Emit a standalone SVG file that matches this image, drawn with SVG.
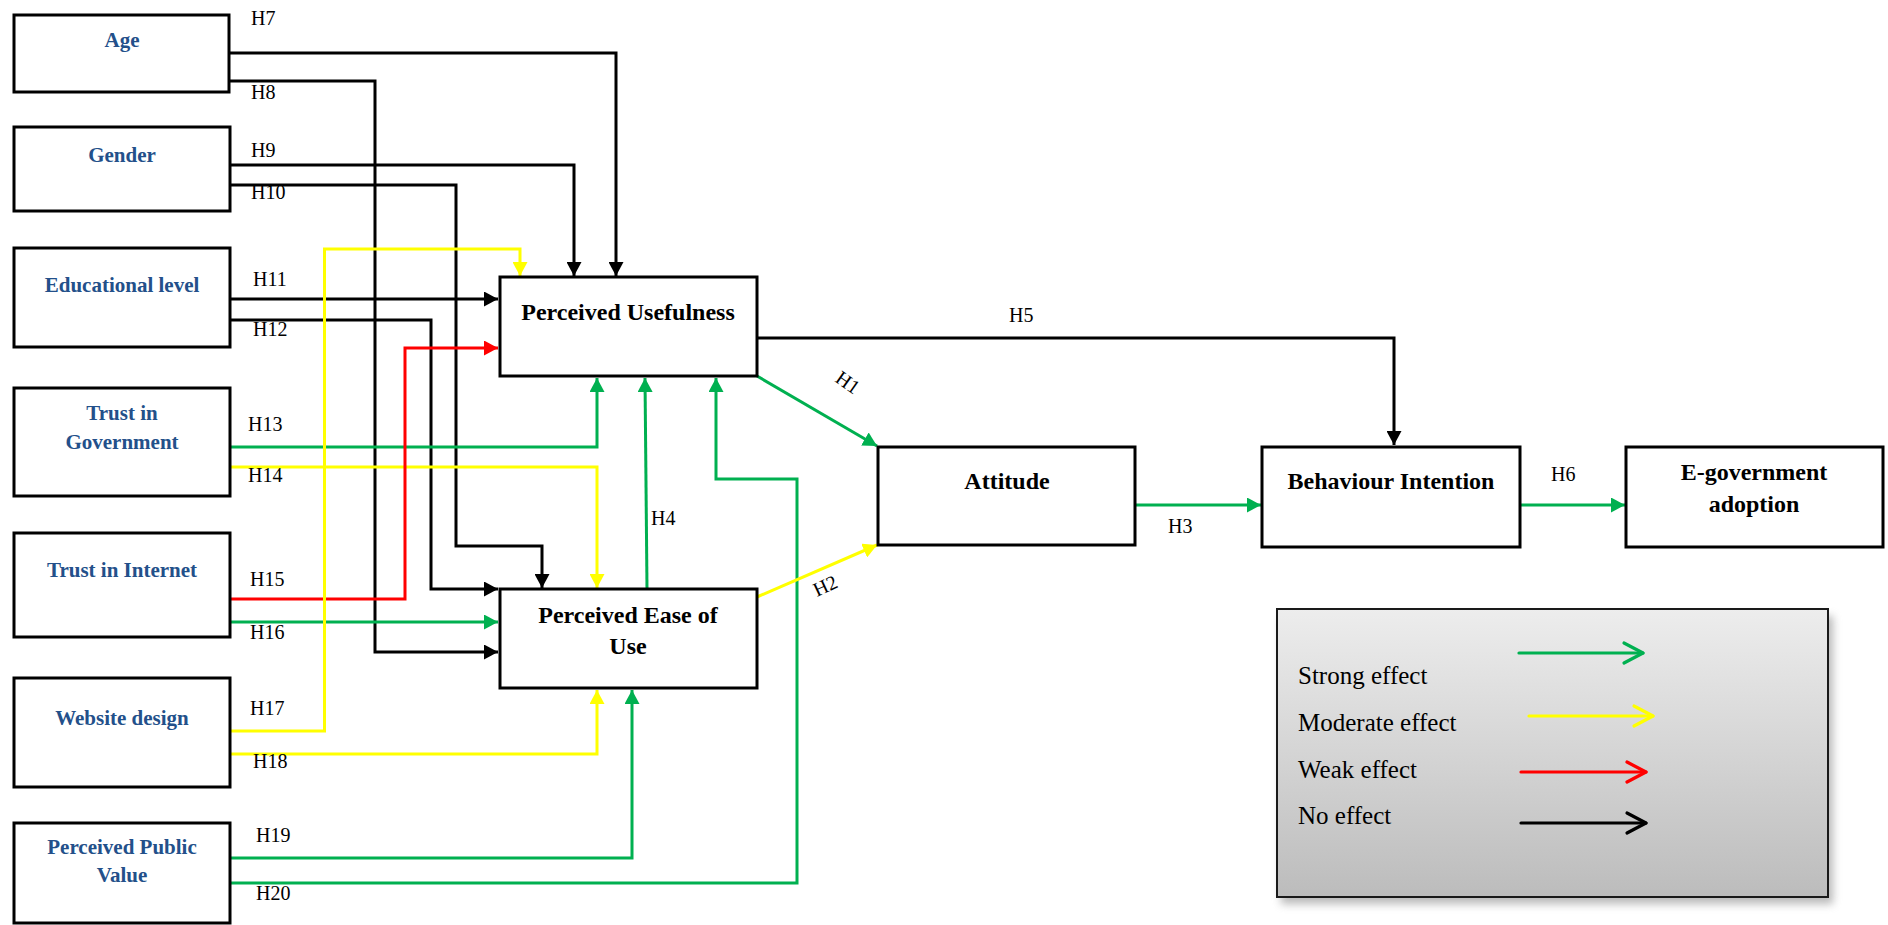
<svg xmlns="http://www.w3.org/2000/svg" width="1888" height="925" viewBox="0 0 1888 925">
  <defs>
    <style>
      .box { fill: #ffffff; stroke: #000000; stroke-width: 3; }
      .src { font-family: "Liberation Serif", "Times New Roman", serif; font-weight: bold; font-size: 21px; fill: #23508a; text-anchor: middle; }
      .main { font-family: "Liberation Serif", "Times New Roman", serif; font-weight: bold; font-size: 24px; fill: #000000; text-anchor: middle; }
      .hyp { font-family: "Liberation Serif", "Times New Roman", serif; font-size: 20px; fill: #000000; }
      .leg { font-family: "Liberation Serif", "Times New Roman", serif; font-size: 25px; fill: #000000; }
      .c { fill: none; stroke-width: 3; stroke-linejoin: miter; }
      .k { stroke: #000000; }
      .g { stroke: #00b050; }
      .y { stroke: #ffff00; }
      .r { stroke: #ff0000; }
      .legarrow { fill: none; stroke-width: 3.2; stroke-linecap: round; stroke-linejoin: round; }
    </style>
    <marker id="ahK" viewBox="0 0 14 15" refX="14" refY="7.5" markerWidth="14" markerHeight="15" markerUnits="userSpaceOnUse" orient="auto">
      <path d="M0,0 L14,7.5 L0,15 z" fill="#000000"/>
    </marker>
    <marker id="ahG" viewBox="0 0 14 15" refX="14" refY="7.5" markerWidth="14" markerHeight="15" markerUnits="userSpaceOnUse" orient="auto">
      <path d="M0,0 L14,7.5 L0,15 z" fill="#00b050"/>
    </marker>
    <marker id="ahY" viewBox="0 0 14 15" refX="14" refY="7.5" markerWidth="14" markerHeight="15" markerUnits="userSpaceOnUse" orient="auto">
      <path d="M0,0 L14,7.5 L0,15 z" fill="#ffff00"/>
    </marker>
    <marker id="ahR" viewBox="0 0 14 15" refX="14" refY="7.5" markerWidth="14" markerHeight="15" markerUnits="userSpaceOnUse" orient="auto">
      <path d="M0,0 L14,7.5 L0,15 z" fill="#ff0000"/>
    </marker>
    <linearGradient id="legFill" x1="0" y1="0" x2="0" y2="1">
      <stop offset="0" stop-color="#ededed"/>
      <stop offset="1" stop-color="#bcbcbc"/>
    </linearGradient>
    <filter id="soft" x="-10%" y="-10%" width="120%" height="130%">
      <feGaussianBlur stdDeviation="4"/>
    </filter>
  </defs>

  <rect width="1888" height="925" fill="#ffffff"/>

  <!-- connectors -->
  <g id="connectors">
    <path class="c k" d="M230,53 H616 V276" marker-end="url(#ahK)"/>
    <path class="c k" d="M230,81 H375 V652 H498" marker-end="url(#ahK)"/>
    <path class="c k" d="M230,165 H574 V276" marker-end="url(#ahK)"/>
    <path class="c k" d="M230,185 H456 V546 H542 V588" marker-end="url(#ahK)"/>
    <path class="c k" d="M230,299 H498" marker-end="url(#ahK)"/>
    <path class="c k" d="M230,320 H431 V589 H498" marker-end="url(#ahK)"/>
    <path class="c g" d="M230,447 H597 V378" marker-end="url(#ahG)"/>
    <path class="c y" d="M230,467 H597 V588" marker-end="url(#ahY)"/>
    <path class="c r" d="M230,599 H405 V348 H498" marker-end="url(#ahR)"/>
    <path class="c g" d="M230,622 H498" marker-end="url(#ahG)"/>
    <path class="c y" d="M230,731 H324.5 V249 H520 V276" marker-end="url(#ahY)"/>
    <path class="c y" d="M230,754 H597 V690" marker-end="url(#ahY)"/>
    <path class="c g" d="M230,858 H632 V690" marker-end="url(#ahG)"/>
    <path class="c g" d="M230,883 H797 V479 H716 V378" marker-end="url(#ahG)"/>
    <path class="c g" d="M647,589 L645,378" marker-end="url(#ahG)"/>
    <path class="c g" d="M757,376 L877,446" marker-end="url(#ahG)"/>
    <path class="c y" d="M757,597 L877,545" marker-end="url(#ahY)"/>
    <path class="c k" d="M757,338 H1394 V445" marker-end="url(#ahK)"/>
    <path class="c g" d="M1135,505 H1261" marker-end="url(#ahG)"/>
    <path class="c g" d="M1520,505 H1625" marker-end="url(#ahG)"/>

    <!-- hypothesis labels -->
    <text class="hyp" x="251" y="25">H7</text>
    <text class="hyp" x="251" y="99">H8</text>
    <text class="hyp" x="251" y="157">H9</text>
    <text class="hyp" x="251" y="199">H10</text>
    <text class="hyp" x="253" y="286">H11</text>
    <text class="hyp" x="253" y="336">H12</text>
    <text class="hyp" x="248" y="431">H13</text>
    <text class="hyp" x="248" y="482">H14</text>
    <text class="hyp" x="250" y="586">H15</text>
    <text class="hyp" x="250" y="639">H16</text>
    <text class="hyp" x="250" y="715">H17</text>
    <text class="hyp" x="253" y="768">H18</text>
    <text class="hyp" x="256" y="842">H19</text>
    <text class="hyp" x="256" y="900">H20</text>
    <text class="hyp" x="651" y="525">H4</text>
    <text class="hyp" x="1009" y="322">H5</text>
    <text class="hyp" x="1168" y="533">H3</text>
    <text class="hyp" x="1551" y="481">H6</text>
    <text class="hyp" transform="translate(834,381) rotate(35)">H1</text>
    <text class="hyp" transform="translate(817,597) rotate(-25)">H2</text>
  </g>

  <!-- source constructs -->
  <g id="age">
    <rect class="box" x="14" y="15" width="215" height="77"/>
    <text class="src" x="122" y="47">Age</text>
  </g>
  <g id="gender">
    <rect class="box" x="14" y="127" width="216" height="84"/>
    <text class="src" x="122" y="162">Gender</text>
  </g>
  <g id="education">
    <rect class="box" x="14" y="248" width="216" height="99"/>
    <text class="src" x="122" y="292">Educational level</text>
  </g>
  <g id="trust-government">
    <rect class="box" x="14" y="388" width="216" height="108"/>
    <text class="src" x="122" y="420">Trust in</text>
    <text class="src" x="122" y="449">Government</text>
  </g>
  <g id="trust-internet">
    <rect class="box" x="14" y="533" width="216" height="104"/>
    <text class="src" x="122" y="577">Trust in Internet</text>
  </g>
  <g id="website-design">
    <rect class="box" x="14" y="678" width="216" height="109"/>
    <text class="src" x="122" y="725">Website design</text>
  </g>
  <g id="public-value">
    <rect class="box" x="14" y="823" width="216" height="100"/>
    <text class="src" x="122" y="854">Perceived Public</text>
    <text class="src" x="122" y="882">Value</text>
  </g>

  <!-- core model -->
  <g id="usefulness">
    <rect class="box" x="500" y="277" width="257" height="99"/>
    <text class="main" x="628" y="320">Perceived Usefulness</text>
  </g>
  <g id="ease-of-use">
    <rect class="box" x="500" y="589" width="257" height="99"/>
    <text class="main" x="628" y="623">Perceived Ease of</text>
    <text class="main" x="628" y="654">Use</text>
  </g>
  <g id="attitude">
    <rect class="box" x="878" y="447" width="257" height="98"/>
    <text class="main" x="1007" y="489">Attitude</text>
  </g>
  <g id="intention">
    <rect class="box" x="1262" y="447" width="258" height="100"/>
    <text class="main" x="1391" y="489">Behaviour Intention</text>
  </g>
  <g id="adoption">
    <rect class="box" x="1626" y="447" width="257" height="100"/>
    <text class="main" x="1754" y="480">E-government</text>
    <text class="main" x="1754" y="512">adoption</text>
  </g>

  <!-- legend -->
  <g id="legend">
    <rect x="1281" y="616" width="552" height="288" fill="#8a8a8a" opacity="0.6" filter="url(#soft)"/>
    <rect x="1277" y="609" width="551" height="288" fill="url(#legFill)" stroke="#1a1a1a" stroke-width="2"/>
    <text class="leg" x="1298" y="684">Strong effect</text>
    <text class="leg" x="1298" y="731">Moderate effect</text>
    <text class="leg" x="1298" y="778">Weak effect</text>
    <text class="leg" x="1298" y="824">No effect</text>
    <g stroke="#00b050" class="legarrow"><path d="M1519,653 H1643"/><path d="M1624,643 L1643,653 L1624,663"/></g>
    <g stroke="#ffff00" class="legarrow"><path d="M1529,716 H1653"/><path d="M1634,706 L1653,716 L1634,726"/></g>
    <g stroke="#ff0000" class="legarrow"><path d="M1521,772 H1646"/><path d="M1627,762 L1646,772 L1627,782"/></g>
    <g stroke="#000000" class="legarrow"><path d="M1521,823 H1646"/><path d="M1627,813 L1646,823 L1627,833"/></g>
  </g>
</svg>
